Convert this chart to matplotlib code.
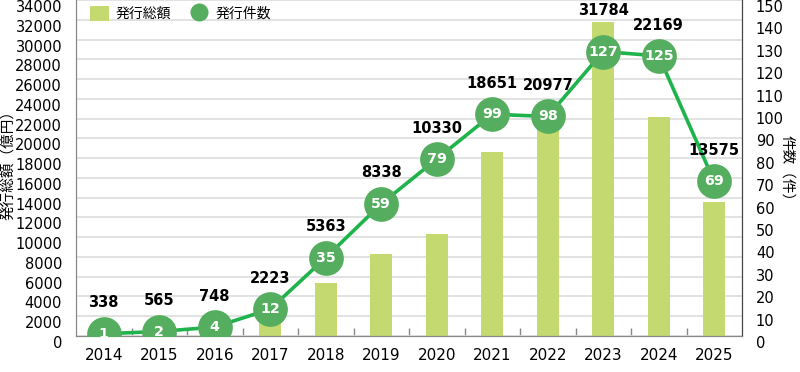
import matplotlib
matplotlib.use("Agg")
import matplotlib.pyplot as plt
import matplotlib.transforms as mtransforms
from matplotlib.lines import Line2D
from matplotlib.patches import Patch
import numpy as np

plt.rcParams['font.family'] = ['DejaVu Sans', 'Noto Sans CJK JP']

years = ['2014', '2015', '2016', '2017', '2018', '2019', '2020', '2021', '2022', '2023', '2024', '2025']
amount = [338, 565, 748, 2223, 5363, 8338, 10330, 18651, 20977, 31784, 22169, 13575]
count = [1, 2, 4, 12, 35, 59, 79, 99, 98, 127, 125, 69]

bar_color = '#c4da70'
line_color = '#1fb34b'
marker_color = '#55ae5f'
grid_color = '#dddddd'
axis_color = '#888888'

fig = plt.figure(figsize=(8, 3.72), dpi=100)
ax1 = fig.add_axes([76 / 800, 36 / 372, 666 / 800, 336 / 372])
ax2 = ax1.twinx()

x = np.arange(len(years))
ax1.bar(x, amount, width=0.4, color=bar_color, zorder=2)
ax1.set_xlim(-0.5, len(years) - 0.5)
ax1.set_ylim(0, 34000)
ax1.set_yticks(np.arange(0, 34001, 2000))
ax1.yaxis.grid(True, color=grid_color, linewidth=1.2, zorder=0)
ax1.set_axisbelow(True)

ax2.plot(x, count, color=line_color, linewidth=2.6, zorder=3)
ax2.plot(x, count, 'o', markersize=25, markerfacecolor=marker_color,
         markeredgewidth=0, zorder=4)
ax2.set_ylim(0, 150)
ax2.set_yticks(np.arange(0, 151, 10))

for i, c in enumerate(count):
    ax2.text(i, c, str(c), color='white', fontsize=10.3, fontweight='bold',
             ha='center', va='center', zorder=5)

# spines and ticks
for ax in (ax1, ax2):
    ax.spines['top'].set_visible(False)
    ax.spines['left'].set_color(axis_color)
    ax.spines['right'].set_color('#444444')
    ax.spines['bottom'].set_color(axis_color)
    ax.tick_params(axis='y', length=0, labelsize=10.5, pad=10)

ax1.set_xticks(x)
ax1.set_xticklabels(years)
ax1.set_xticks(np.arange(0.5, len(years) - 1, 1.0), minor=True)
ax1.tick_params(axis='x', which='major', length=0, labelsize=11, pad=9)
ax1.tick_params(axis='x', which='minor', direction='in', length=6, width=1, color=axis_color)

offset = mtransforms.ScaledTranslation(0, -6 / 100, fig.dpi_scale_trans)
for lbl in ax1.get_yticklabels() + ax2.get_yticklabels():
    lbl.set_transform(lbl.get_transform() + offset)

ax1.set_ylabel('発行総額（億円）', fontsize=10.5)
ax1.yaxis.set_label_coords(-0.09, 0.52)
ax2.set_ylabel('件数（件）', fontsize=10.5, rotation=-90, va='center')
ax2.yaxis.set_label_coords(1.068, 0.49)

# amount labels above markers / bars
fig.canvas.draw()
for i, (a, c) in enumerate(zip(amount, count)):
    px_marker = ax2.transData.transform((i, c))
    px_bar = ax1.transData.transform((i, a))
    y = max(px_marker[1] + 31, px_bar[1] + 11)
    fig.text(px_marker[0] / 800, y / 372, f'{a}', fontsize=10.5, fontweight='bold',
             ha='center', va='center', transform=fig.transFigure)

handles = [Patch(facecolor=bar_color, edgecolor='none', label='発行総額'),
           Line2D([], [], marker='o', linestyle='none', markersize=13,
                  markerfacecolor=marker_color, markeredgewidth=0, label='発行件数')]
leg = ax1.legend(handles=handles, loc='upper left', bbox_to_anchor=(0.003, 1.02), ncol=2,
                 frameon=False, fontsize=10, handlelength=1.3, handleheight=1.3,
                 columnspacing=1.4, handletextpad=0.5)
leg.set_zorder(6)

fig.savefig('out.png', dpi=100)
